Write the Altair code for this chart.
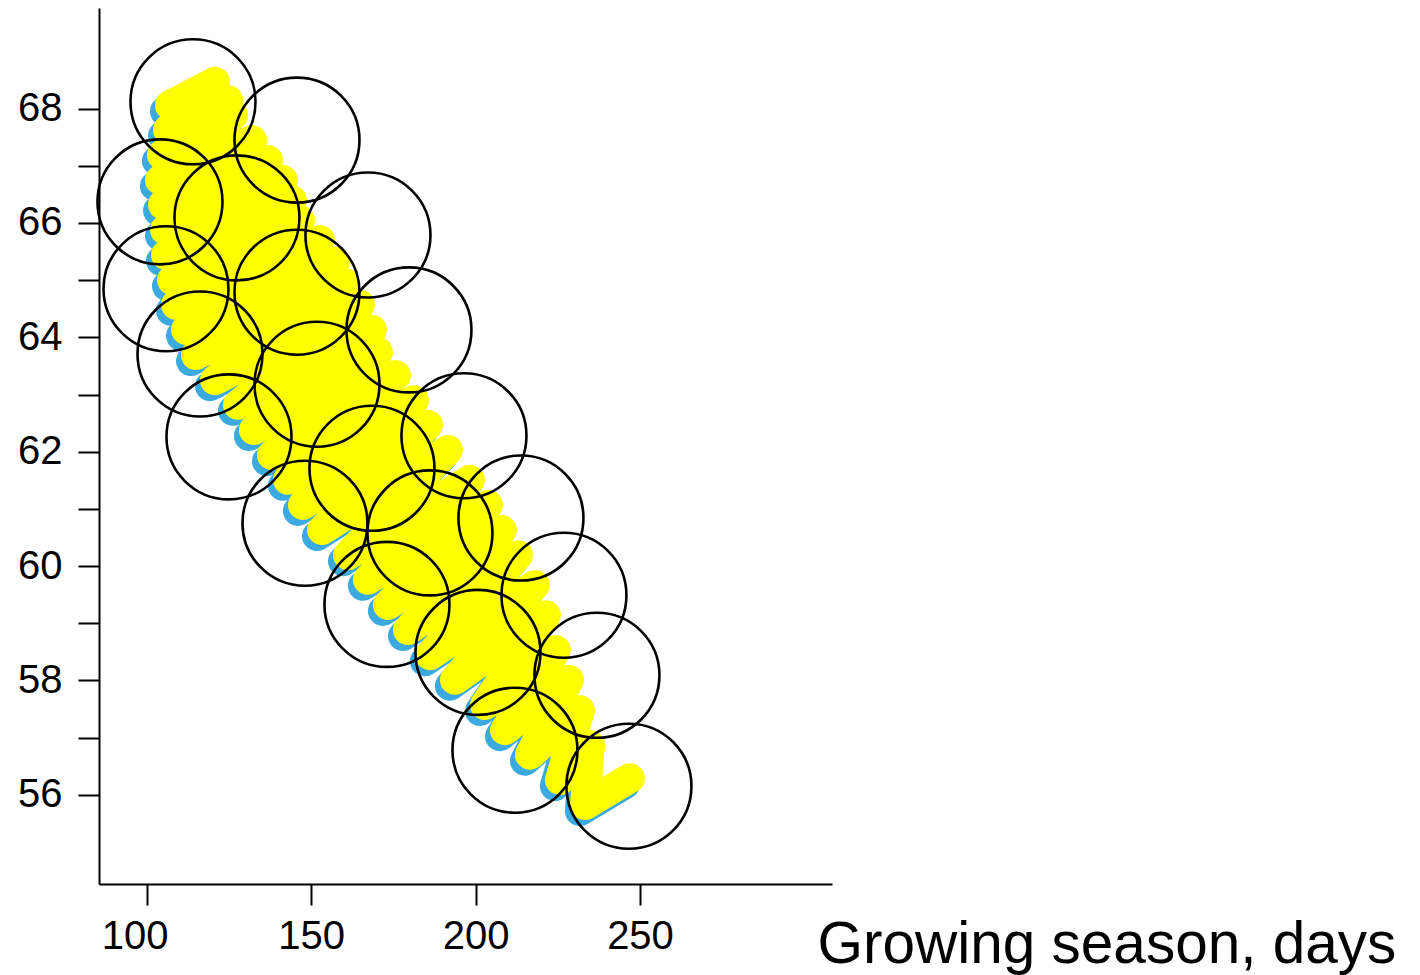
import altair as alt
import pandas as pd

# Scribble band: alternating left (lower) and right (upper) stroke ends
left_x = [107.08, 106.48, 104.65, 104.04, 104.96, 105.56, 105.87, 107.69, 108.91, 111.95,
          114.99, 120.77, 127.76, 132.62, 138.10, 142.96, 147.52, 153.30, 161.20, 167.28,
          173.37, 179.45, 186.13, 193.73, 202.85, 208.94, 216.54, 225.66, 233.26]
left_y = [68.06, 67.63, 67.19, 66.75, 66.32, 65.88, 65.44, 65.00, 64.57, 64.13,
          63.69, 63.25, 62.82, 62.38, 61.94, 61.51, 61.07, 60.63, 60.19, 59.76,
          59.32, 58.88, 58.44, 58.01, 57.57, 57.13, 56.70, 56.26, 55.82]
right_x = [120.77, 124.72, 126.24, 132.02, 136.88, 141.44, 144.18, 146.61, 152.69, 157.25,
           160.29, 164.85, 168.50, 170.32, 175.80, 181.27, 185.53, 191.61, 198.30, 203.77,
           208.02, 212.89, 218.06, 221.40, 224.44, 228.40, 231.74, 234.78, 246.94]
right_y = [68.47, 68.15, 67.89, 67.45, 67.10, 66.75, 66.40, 66.05, 65.70, 65.32,
           64.95, 64.57, 64.13, 63.74, 63.34, 62.90, 62.47, 62.03, 61.51, 61.07,
           60.63, 60.19, 59.67, 59.14, 58.53, 58.01, 57.48, 56.87, 56.29]

# Circles
circle_x = [114.08, 145.70, 104.04, 127.45, 167.28, 105.87, 145.70, 179.75, 116.21, 151.78,
            125.02, 196.47, 148.13, 168.50, 186.13, 213.80, 173.06, 226.87, 200.73, 236.91,
            211.98, 246.63]
circle_y = [68.12, 67.45, 66.37, 66.09, 65.79, 64.85, 64.79, 64.13, 63.71, 63.18,
            62.26, 62.28, 60.75, 61.71, 60.58, 60.84, 59.33, 59.49, 58.49, 58.09,
            56.78, 56.15]

x_ticks = [100, 150, 200, 250]
y_ticks = list(range(56, 69))

rows = []
k = 0
for lx, ly, rx, ry in zip(left_x, left_y, right_x, right_y):
    rows.append({"x": lx, "y": ly, "o": k}); k += 1
    rows.append({"x": rx, "y": ry, "o": k}); k += 1
band = pd.DataFrame(rows)
circles = pd.DataFrame({"x": circle_x, "y": circle_y})

FONT = "Liberation Sans"
xs = alt.Scale(domain=[85.5, 308.38], nice=False, zero=False)
ys = alt.Scale(domain=[54.44, 69.76], nice=False, zero=False)

xaxis = alt.Axis(
    values=x_ticks, grid=False, title="Growing season, days", format="d",
    domainColor="black", domainWidth=2, tickColor="black", tickWidth=2, tickSize=21,
    labelFont=FONT, labelFontSize=40, labelColor="black", labelPadding=11,
    labelOffset={"condition": {"test": "datum.value == 100", "value": -12}, "value": 0},
    titleFont=FONT, titleFontSize=58.5, titleFontWeight="normal", titleColor="black",
    titleX=718, titleY=78, titleAlign="left", titleBaseline="alphabetic", titleAnchor="start",
)
yaxis = alt.Axis(
    values=y_ticks, grid=False, title=None, format="d",
    labelExpr="datum.value % 2 == 0 ? datum.label : ''", labelOverlap=False,
    domainColor="black", domainWidth=2, tickColor="black", tickWidth=2, tickSize=21,
    labelFont=FONT, labelFontSize=40, labelColor="black", labelPadding=16,
)

shadow = alt.Chart(band).mark_line(
    color="#3AAAE0", strokeWidth=30, strokeCap="round", strokeJoin="round",
    xOffset=-5, yOffset=6
).encode(
    x=alt.X("x:Q", scale=xs, axis=xaxis),
    y=alt.Y("y:Q", scale=ys, axis=yaxis),
    order="o:Q",
)
fill = alt.Chart(band).mark_line(
    color="#FFFF00", strokeWidth=30, strokeCap="round", strokeJoin="round"
).encode(
    x=alt.X("x:Q", scale=xs),
    y=alt.Y("y:Q", scale=ys),
    order="o:Q",
)
rings = alt.Chart(circles).mark_point(
    shape="circle", size=15625, filled=False, color="black", strokeWidth=2.6, opacity=1
).encode(
    x=alt.X("x:Q", scale=xs),
    y=alt.Y("y:Q", scale=ys),
)

chart = alt.layer(shadow, fill, rings).properties(
    width=733, height=876,
    autosize=alt.AutoSizeParams(type="none"),
    padding={"left": 91, "top": 0, "right": 580, "bottom": 95},
).configure_view(stroke=None)

chart.save("out.html", embed_options={"renderer": "svg", "actions": False})
